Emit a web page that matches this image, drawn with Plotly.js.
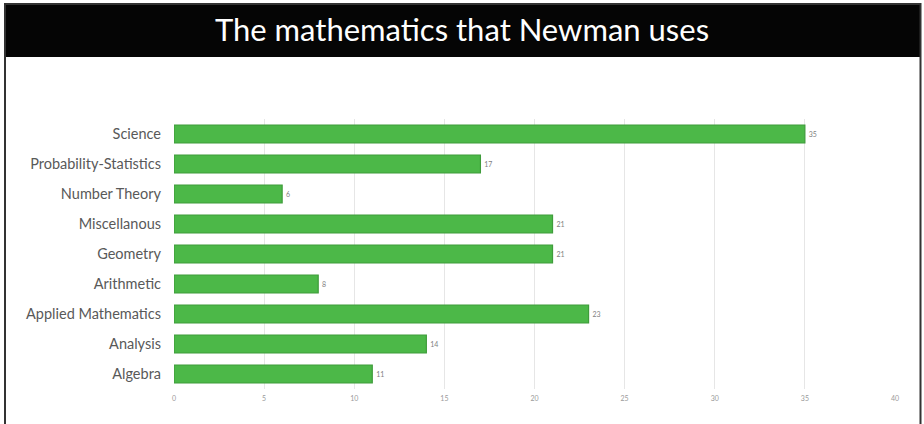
<!DOCTYPE html>
<html>
<head>
<meta charset="utf-8">
<script src="https://cdn.plot.ly/plotly-3.0.1.min.js"></script>
<style>
html,body{margin:0;padding:0;background:#fff;}
#chart{width:924px;height:424px;}
</style>
</head>
<body>
<div id="chart"></div>
<script>
const categories = ["Algebra","Analysis","Applied Mathematics","Arithmetic","Geometry","Miscellanous","Number Theory","Probability-Statistics","Science"];
const counts = [11,14,23,8,21,21,6,17,35];
const xTicks = [0,5,10,15,20,25,30,35,40];

const W = 924, H = 424;
const L = 174, R = 895, T = 119, B = 389;
const pw = R - L, ph = B - T;
function px(x){ return (x - L) / pw; }
function py(y){ return (B - y) / ph; }

const trace = {
  type: 'bar',
  orientation: 'h',
  y: categories,
  x: counts,
  text: counts.map(v => '\u2009' + v),
  textposition: 'outside',
  cliponaxis: false,
  textfont: {family: 'Lato, "Open Sans", sans-serif', size: 7, color: '#7f7f7f'},
  marker: {color: '#4cb848', line: {color: '#3f9c3b', width: 1.2}},
  hoverinfo: 'none'
};

const layout = {
  width: W, height: H,
  margin: {l: L, r: W - R, t: T, b: H - B, pad: 0},
  paper_bgcolor: '#ffffff',
  plot_bgcolor: '#ffffff',
  showlegend: false,
  bargap: 0.4,
  title: {
    text: 'The mathematics that Newman uses',
    font: {family: 'Lato, "Open Sans", sans-serif', size: 31, color: '#ffffff'},
    x: 0.5, xref: 'container', xanchor: 'center',
    y: 1 - 30/H, yref: 'container', yanchor: 'middle'
  },
  xaxis: {
    range: [0, 40],
    tickvals: xTicks,
    ticktext: xTicks.map(String),
    showgrid: true, gridcolor: '#e6e6e6', gridwidth: 1,
    zeroline: false, showline: false, ticks: '',
    tickfont: {family: 'Lato, "Open Sans", sans-serif', size: 7, color: '#9a9a9a'},
    ticklabelstandoff: 4,
    fixedrange: true
  },
  yaxis: {
    type: 'category',
    categoryorder: 'array', categoryarray: categories,
    showgrid: false, zeroline: false, showline: false, ticks: '',
    tickfont: {family: 'Lato, "Open Sans", sans-serif', size: 14.5, color: '#595959'},
    ticklabelstandoff: 12,
    fixedrange: true
  },
  shapes: [
    {type: 'rect', xref: 'paper', yref: 'paper', layer: 'below',
     x0: px(4), x1: px(921), y0: py(57), y1: py(3),
     fillcolor: '#050505', line: {width: 0}},
    {type: 'rect', xref: 'paper', yref: 'paper', layer: 'above',
     x0: px(5), x1: px(920.5), y0: py(440), y1: py(4),
     fillcolor: 'rgba(0,0,0,0)', line: {color: '#333333', width: 2}}
  ]
};

Plotly.newPlot('chart', [trace], layout, {displayModeBar: false, staticPlot: true});
</script>
</body>
</html>
